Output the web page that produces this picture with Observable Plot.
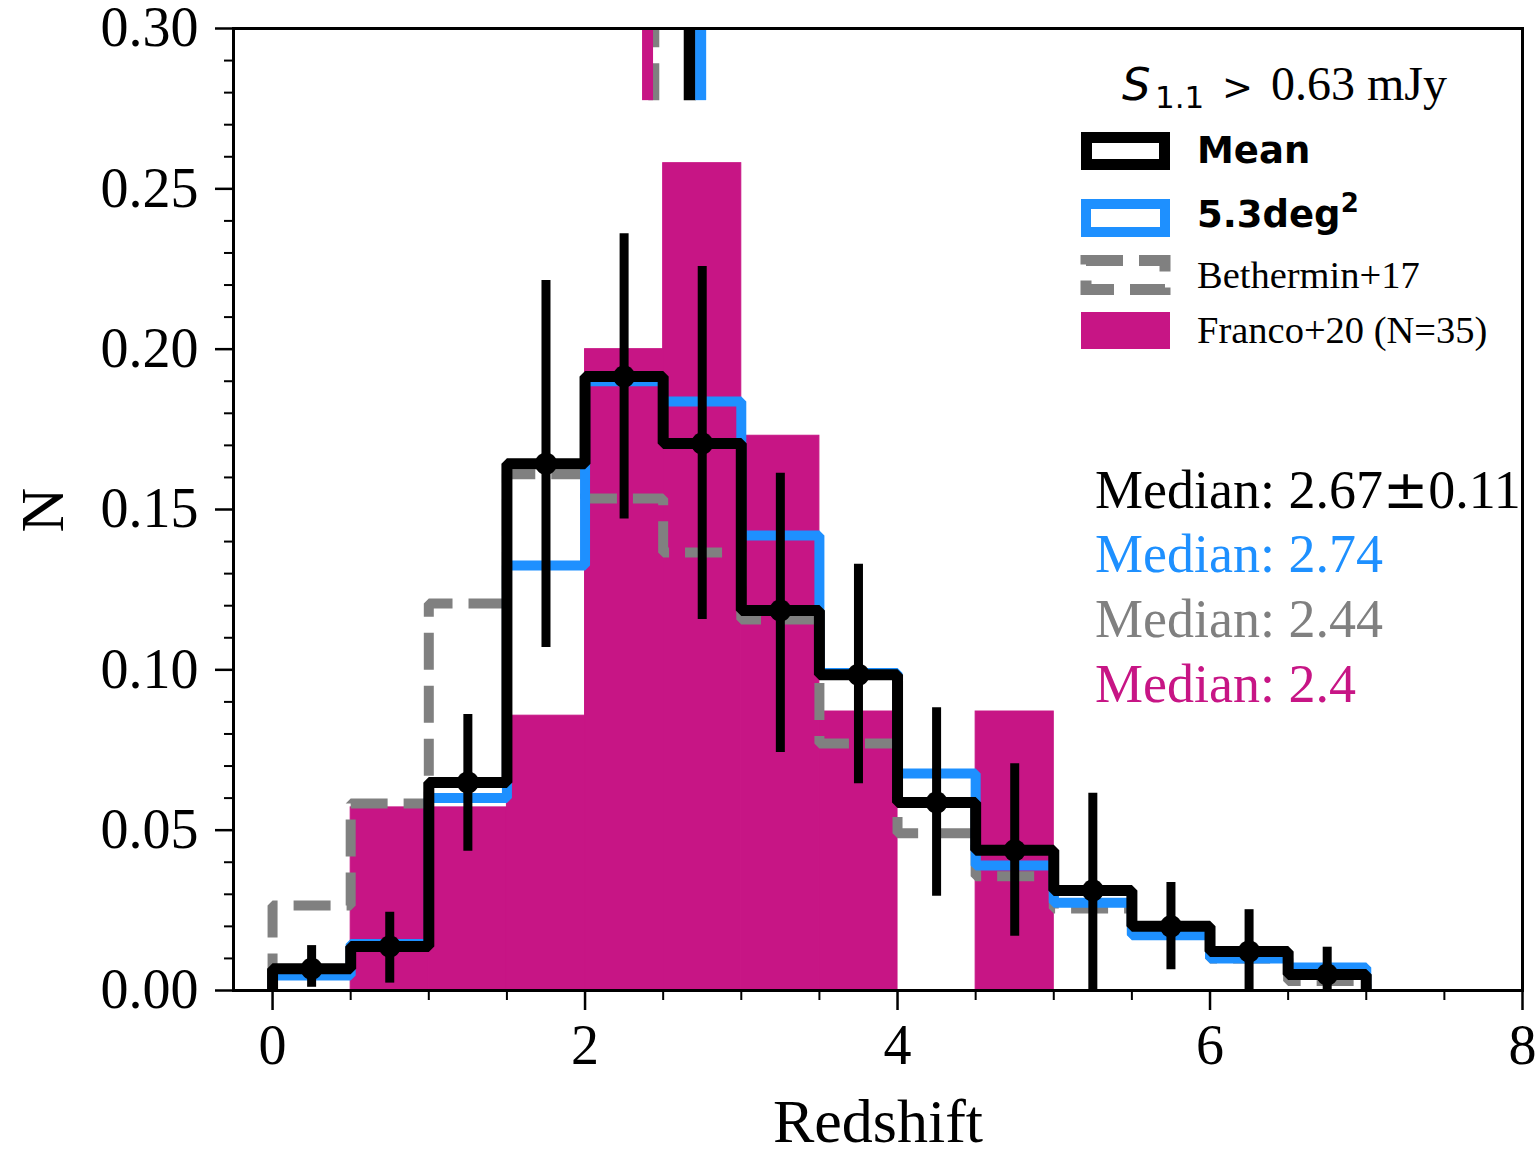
<!DOCTYPE html>
<html><head><meta charset="utf-8">
<script src="https://cdn.jsdelivr.net/npm/d3@7"></script>
<script src="https://cdn.jsdelivr.net/npm/@observablehq/plot@0.6"></script>
<style>
body{margin:0;background:#fff;}
#chart{position:relative;width:1540px;height:1150px;}
</style>
</head><body><div id="chart"></div>
<script>
// ---- data ----
const binEdges = [0, 0.5, 1, 1.5, 2, 2.5, 3, 3.5, 4, 4.5, 5, 5.5, 6, 6.5, 7];
const meanVals = [0.0068, 0.0137, 0.0649, 0.1643, 0.1915, 0.1706, 0.1185, 0.0985, 0.0586, 0.0437, 0.0312, 0.0200, 0.0122, 0.0050];
const meanErrLow = [0.0010, 0.0023, 0.0434, 0.1070, 0.1470, 0.1157, 0.0742, 0.0645, 0.0294, 0.0169, 0.0000, 0.0065, 0.0000, 0.0000];
const meanErrHigh = [0.0140, 0.0244, 0.0861, 0.2214, 0.2360, 0.2258, 0.1613, 0.1329, 0.0882, 0.0707, 0.0615, 0.0337, 0.0252, 0.0135];
const deg53Vals = [0.0047, 0.0145, 0.0600, 0.1325, 0.1900, 0.1837, 0.1419, 0.0990, 0.0677, 0.0390, 0.0274, 0.0172, 0.0100, 0.0072];
const betherminVals = [0.0265, 0.0583, 0.1207, 0.1610, 0.1534, 0.1366, 0.1157, 0.0770, 0.0490, 0.0356, 0.0256, 0.0175, 0.0100, 0.0030];
const francoVals = [0, 0.0571, 0.0571, 0.0857, 0.2000, 0.2580, 0.1730, 0.0870, 0, 0.0870, 0, 0, 0, 0];
const medianNames = ["Bethermin+17", "Franco+20", "Mean", "5.3deg2"];
const medianValues = [2.44, 2.4, 2.67, 2.74];
const medianLabels = [["Median: 2.67", "\u00B1", "0.11"], ["Median: 2.74"], ["Median: 2.44"], ["Median: 2.4"]];
const yMajorTicks = [0, 0.05, 0.10, 0.15, 0.20, 0.25, 0.30];
const yMinorTicks = [0.01,0.02,0.03,0.04,0.06,0.07,0.08,0.09,0.11,0.12,0.13,0.14,0.16,0.17,0.18,0.19,0.21,0.22,0.23,0.24,0.26,0.27,0.28,0.29];
const xMajorTicks = [0, 2, 4, 6, 8];
const xMinorTicks = [0.5, 1, 1.5, 2.5, 3, 3.5, 4.5, 5, 5.5, 6.5, 7, 7.5];

// ---- styles ----
const PINK = "#C71585", BLUE = "#1E90FF", GRAY = "#808080";
const SERIF = "'Liberation Serif', 'Times New Roman', serif";
const SANS = "'DejaVu Sans', sans-serif";

function stepPoints(vals) {
  const pts = [{x: binEdges[0], y: 0}];
  vals.forEach((v, i) => pts.push({x: binEdges[i], y: v}));
  pts.push({x: binEdges[binEdges.length - 1], y: 0});
  return pts;
}
const francoBars = francoVals.map((v, i) => ({x1: binEdges[i], x2: binEdges[i + 1], v})).filter(d => d.v > 0);
const errData = meanVals.map((v, i) => ({x: (binEdges[i] + binEdges[i + 1]) / 2, v, lo: meanErrLow[i], hi: meanErrHigh[i]}));
const med = medianNames.map((n, i) => ({name: n, x: medianValues[i]}));
const medTop = 0.30, medBottom = 0.2775;
const lineOpts = {x: "x", y: "y", curve: "step-after", strokeLinejoin: "miter", strokeLinecap: "butt", clip: true};

const plot = Plot.plot({
  width: 1540, height: 1150,
  marginLeft: 233, marginRight: 18, marginTop: 28, marginBottom: 160,
  x: {domain: [-0.25, 8], label: null},
  y: {domain: [0, 0.30], label: null},
  style: {fontFamily: SERIF, fontSize: "56px", background: "white", color: "black", overflow: "visible"},
  marks: [
    Plot.rect(francoBars, {x1: "x1", x2: "x2", y1: 0, y2: "v", fill: PINK, stroke: PINK, strokeWidth: 1}),
    Plot.line(stepPoints(betherminVals), {...lineOpts, stroke: GRAY, strokeWidth: 10, strokeDasharray: "37,16"}),
    Plot.line(stepPoints(deg53Vals), {...lineOpts, stroke: BLUE, strokeWidth: 10}),
    Plot.line(stepPoints(meanVals), {...lineOpts, stroke: "black", strokeWidth: 11}),
    Plot.ruleX(errData, {x: "x", y1: "lo", y2: "hi", stroke: "black", strokeWidth: 9, clip: true}),
    Plot.dot(errData, {x: "x", y: "v", r: 11, fill: "black"}),
    Plot.ruleX(med.filter(d => d.name === "Bethermin+17"), {x: "x", y1: medBottom, y2: medTop, stroke: GRAY, strokeWidth: 11, strokeDasharray: "37,16"}),
    Plot.ruleX(med.filter(d => d.name === "Franco+20"), {x: "x", y1: medBottom, y2: medTop, stroke: PINK, strokeWidth: 11}),
    Plot.ruleX(med.filter(d => d.name === "Mean"), {x: "x", y1: medBottom, y2: medTop, stroke: "black", strokeWidth: 12}),
    Plot.ruleX(med.filter(d => d.name === "5.3deg2"), {x: "x", y1: medBottom, y2: medTop, stroke: BLUE, strokeWidth: 11}),
    Plot.axisY(yMajorTicks, {tickSize: 18, tickPadding: 17, tickFormat: d => d.toFixed(2), strokeWidth: 2.5, fontSize: 56, label: null}),
    Plot.axisY(yMinorTicks, {tickSize: 9, tickFormat: () => "", strokeWidth: 2, label: null}),
    Plot.axisX(xMajorTicks, {tickSize: 20, tickPadding: 14, tickFormat: d => String(d), strokeWidth: 2.5, fontSize: 56, label: null}),
    Plot.axisX(xMinorTicks, {tickSize: 10, tickFormat: () => "", strokeWidth: 2, label: null}),
    Plot.frame({stroke: "black", strokeWidth: 3})
  ]
});
document.getElementById("chart").appendChild(plot);

// ---- annotations: axis labels, median texts, legend ----
const svg = d3.select(plot);
const g = svg.append("g").attr("text-anchor", "start");
g.append("text").attr("x", 878).attr("y", 1142).attr("text-anchor", "middle")
  .attr("font-family", SERIF).attr("font-size", 62).attr("fill", "black").text("Redshift");
g.append("text").attr("transform", "translate(63,510) rotate(-90)").attr("text-anchor", "middle")
  .attr("font-family", SERIF).attr("font-size", 62).attr("fill", "black").text("N");

const medColors = ["black", BLUE, GRAY, PINK];
const medBase = [508, 572, 637, 702];
medianLabels.forEach((parts, i) => {
  const t = g.append("text").attr("x", 1095).attr("y", medBase[i]).attr("text-anchor", "start").attr("font-family", SERIF)
    .attr("font-size", 54).attr("fill", medColors[i]);
  parts.forEach(p => {
    const s = t.append("tspan").text(p);
    if (p === "\u00B1") s.attr("font-family", SANS);
  });
});

// legend title
const title = g.append("text").attr("y", 100).attr("fill", "black").attr("text-anchor", "start");
title.append("tspan").attr("x", 1122).attr("font-family", SANS).attr("font-style", "italic").attr("font-size", 45).text("S");
title.append("tspan").attr("x", 1155).attr("dy", 8).attr("font-family", SANS).attr("font-size", 31).text("1.1");
title.append("tspan").attr("x", 1222).attr("dy", -8).attr("font-family", SANS).attr("font-size", 37).text(">");
title.append("tspan").attr("x", 1271).attr("font-family", SERIF).attr("font-size", 48).text("0.63 mJy");

// legend swatches
g.append("rect").attr("x", 1086.5).attr("y", 137.5).attr("width", 78).attr("height", 27)
  .attr("fill", "none").attr("stroke", "black").attr("stroke-width", 11);
g.append("rect").attr("x", 1086).attr("y", 204).attr("width", 79).attr("height", 28)
  .attr("fill", "none").attr("stroke", BLUE).attr("stroke-width", 10);
g.append("rect").attr("x", 1086).attr("y", 260.5).attr("width", 79).attr("height", 29)
  .attr("fill", "none").attr("stroke", GRAY).attr("stroke-width", 11).attr("stroke-dasharray", "37,16");
g.append("rect").attr("x", 1081).attr("y", 312).attr("width", 89).attr("height", 37).attr("fill", PINK);

// legend labels
g.append("text").attr("x", 1197).attr("y", 163).attr("text-anchor", "start").attr("font-family", SANS).attr("font-weight", "bold")
  .attr("font-size", 37).attr("fill", "black").text("Mean");
const d2 = g.append("text").attr("x", 1197).attr("y", 227).attr("text-anchor", "start").attr("font-family", SANS).attr("font-weight", "bold")
  .attr("font-size", 37).attr("fill", "black");
d2.append("tspan").text("5.3deg");
d2.append("tspan").attr("dy", -15).attr("font-size", 26).text("2");
g.append("text").attr("x", 1197).attr("y", 288).attr("text-anchor", "start").attr("font-family", SERIF)
  .attr("font-size", 38.5).attr("fill", "black").text("Bethermin+17");
g.append("text").attr("x", 1197).attr("y", 343).attr("text-anchor", "start").attr("font-family", SERIF)
  .attr("font-size", 38.5).attr("fill", "black").text("Franco+20 (N=35)");
</script>
</body></html>
